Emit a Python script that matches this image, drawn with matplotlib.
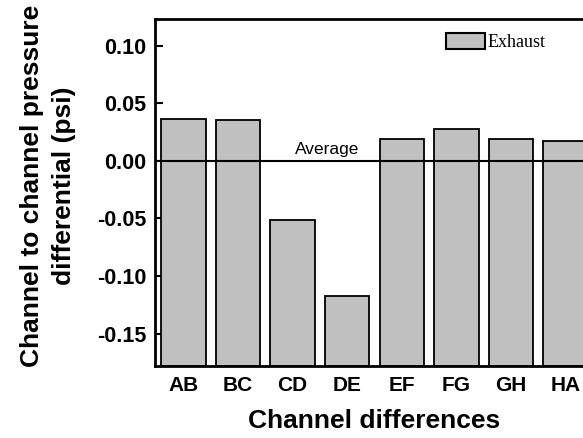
import matplotlib.pyplot as plt
from matplotlib.patches import Patch

channels = ['AB', 'BC', 'CD', 'DE', 'EF', 'FG', 'GH', 'HA']
diffs = [0.0365, 0.035, -0.051, -0.117, 0.019, 0.028, 0.019, 0.0175]
ymin, ymax = -0.178, 0.123

plt.rcParams['font.family'] = ['Liberation Sans', 'DejaVu Sans']

fig = plt.figure(figsize=(5.83, 4.38), dpi=100)
# axes run past the right edge, like the cropped original
ax = fig.add_axes([155 / 583, 1 - 366 / 438, 439 / 583, 347 / 438])

x = list(range(len(channels)))
heights = [d - ymin for d in diffs]
ax.bar(x, heights, bottom=ymin, width=0.81, color='#c0c0c0',
       edgecolor='black', linewidth=1.3, zorder=2)
ax.axhline(0, color='black', lw=1.5, zorder=3)
ax.text(2.64, 0.003, 'Average', ha='center', va='bottom', fontsize=12.5)

ax.set_xlim(-0.52, 7.52)
ax.set_ylim(ymin, ymax)
ax.set_xticks(x)
ax.set_xticklabels(channels, fontsize=15, fontweight='bold')
ax.set_yticks([-0.15, -0.10, -0.05, 0.00, 0.05, 0.10])
ax.set_yticklabels(['-0.15', '-0.10', '-0.05', '0.00', '0.05', '0.10'],
                   fontsize=15.5, fontweight='bold')
ax.tick_params(axis='x', length=0, pad=7)
ax.tick_params(axis='y', direction='in', length=6, width=1.5, pad=6)
for s in ax.spines.values():
    s.set_linewidth(2)

ax.set_xlabel('Channel differences', fontsize=19, fontweight='bold', labelpad=10)
ax.set_ylabel('Channel to channel pressure\ndifferential (psi)', fontsize=19,
              fontweight='bold', linespacing=1.4)
ax.yaxis.set_label_coords(-0.18, 0.52)

leg = ax.legend(handles=[Patch(facecolor='#c0c0c0', edgecolor='black', lw=1.5,
                               label='Exhaust')],
                loc='upper left', bbox_to_anchor=(0.625, 1.006), frameon=False,
                prop={'family': 'Liberation Serif', 'size': 13},
                handlelength=2.2, handleheight=1.0, handletextpad=0.1)

fig.savefig('out.png', dpi=100)
